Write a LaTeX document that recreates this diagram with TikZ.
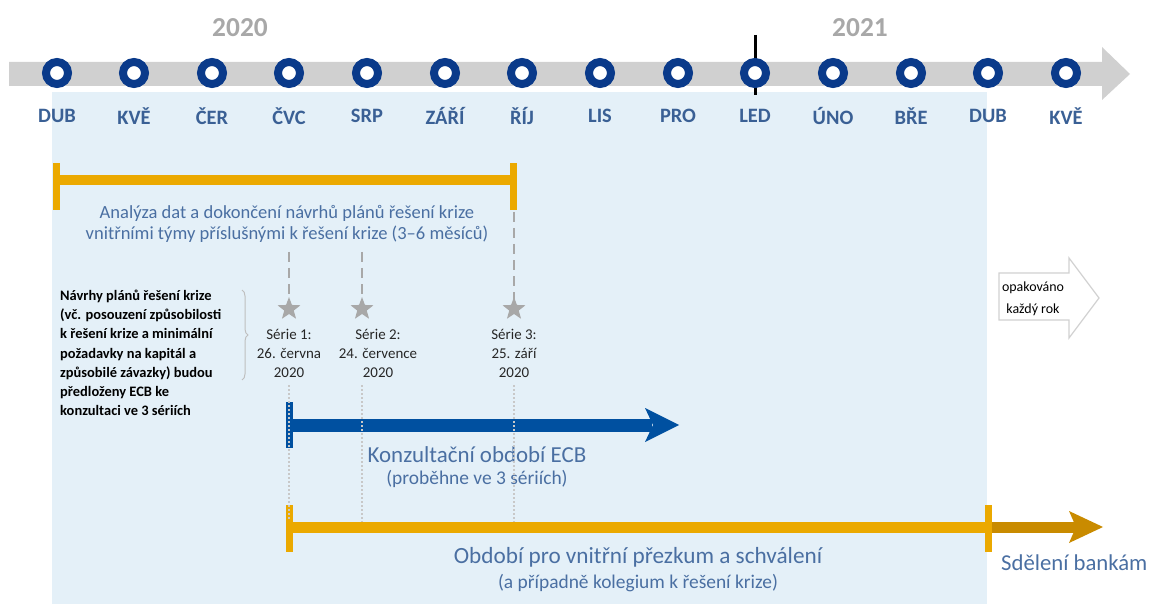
\documentclass[tikz,border=0pt]{standalone}
\usepackage{fontspec}
\setmainfont{Carlito}
\usetikzlibrary{shapes.geometric,decorations.pathreplacing}
\definecolor{bgblue}{HTML}{E4F0F8}
\definecolor{tlgray}{HTML}{D0D0D0}
\definecolor{ecbblue}{HTML}{0A3A8A}
\definecolor{monthblue}{HTML}{3A6095}
\definecolor{txtblue}{HTML}{4A6FA2}
\definecolor{orng}{HTML}{EBA900}
\definecolor{dorng}{HTML}{C98B00}
\definecolor{arrblue}{HTML}{0050A0}
\definecolor{yeargray}{HTML}{A8A8A8}
\definecolor{dashgray}{HTML}{A8A8A8}
\definecolor{dotgray}{HTML}{C8C8C8}
\tikzset{
  monthlbl/.style={font=\fontsize{20.5}{24}\selectfont\bfseries, text=monthblue, inner sep=0pt},
  yearlbl/.style={font=\fontsize{27.5}{30}\selectfont\bfseries, text=yeargray, inner sep=0pt},
  ring/.style={draw=ecbblue, line width=8bp, fill=white},
  bluetxt/.style={text=txtblue, align=center, inner sep=0pt},
  serieslbl/.style={font=\fontsize{15}{19}\selectfont, text=black!85, align=center, inner sep=0pt},
  dashln/.style={draw=dashgray, line width=2.6bp, dash pattern=on 10bp off 6bp},
  dotln/.style={draw=dotgray, line width=1.2bp, dash pattern=on 2bp off 2bp},
  starmark/.style={star, star points=5, star point ratio=2.4, fill=dashgray, minimum size=24bp, inner sep=0pt},
}
\begin{document}
\begin{tikzpicture}[x=1bp,y=-1bp]
\useasboundingbox (0,0) rectangle (1152,606);
% background
\fill[bgblue] (52,92) rectangle (987,604);
% timeline arrow
\fill[tlgray] (9,62) -- (1102,62) -- (1102,47) -- (1130,74) -- (1102,100) -- (1102,86) -- (9,86) -- cycle;
% LED marker
\draw[black, line width=3bp] (755,35) -- (755,95);
% year labels
\node[yearlbl] (y2020) at (240,28) {2020};
\node[yearlbl] (y2021) at (860,28) {2021};
% months
\foreach \x/\m [count=\i] in {57/DUB,134/KVĚ,212/ČER,289/ČVC,367/SRP,445/ZÁŘÍ,522/ŘÍJ,600/LIS,678/PRO,755/LED,833/ÚNO,911/BŘE,988/DUB,1066/KVĚ}{
  \draw[ring] (\x,73) circle (11);
  \node[monthlbl] (m\i) at (\x,116) {\m};
}
% top orange bracket
\coordinate (a1) at (57,180);
\coordinate (a2) at (513,180);
\draw[orng, line width=10bp] (a1) -- (a2);
\fill[orng] (53,163) rectangle (60,210);
\fill[orng] (510,163) rectangle (517,210);
\node[bluetxt, font=\fontsize{18.6}{21.5}\selectfont] (analyza) at (287,224) {Analýza dat a dokončení návrhů plánů řešení krize\\vnitřními týmy příslušnými k řešení krize (3–6 měsíců)};
% dashed lines and stars
\coordinate (d1) at (289,252);
\coordinate (d2) at (362,252);
\coordinate (d3) at (514,212);
\node[starmark] (s1) at (289,309) {};
\node[starmark] (s2) at (362,309) {};
\node[starmark] (s3) at (514,309) {};
\draw[dashln] (d1) -- (s1.center);
\draw[dashln] (d2) -- (s2.center);
\draw[dashln] (d3) -- (s3.center);
% series labels
\node[serieslbl] (l1) at (289,353) {Série 1:\\26. června\\2020};
\node[serieslbl] (l2) at (378,353) {Série 2:\\24. července\\2020};
\node[serieslbl] (l3) at (514,353) {Série 3:\\25. září\\2020};
% left text and brace
\node[font=\fontsize{14.5}{19.2}\selectfont\bfseries, align=left, anchor=north west, inner sep=0pt] (navrhy) at (60,290) {Návrhy plánů řešení krize\\(vč. posouzení způsobilosti\\k řešení krize a minimální\\požadavky na kapitál a\\způsobilé závazky) budou\\předloženy ECB ke\\konzultaci ve 3 sériích};
\coordinate (b1) at (242,290);
\coordinate (b2) at (242,380);
\draw[black!25, line width=1bp, decorate, decoration={brace, amplitude=6bp}] (b1) -- (b2);
% blue arrow
\coordinate (ba1) at (289,425);
\coordinate (ba2) at (652,425);
\draw[arrblue, line width=13bp] (ba1) -- (ba2);
\fill[arrblue] (645,408) -- (679,425) -- (645,442) -- (653,425) -- cycle;
\fill[arrblue] (286,402) rectangle (293,448);
\node[bluetxt, font=\fontsize{23}{26}\selectfont] (konz) at (477,455) {Konzultační období ECB};
\node[bluetxt, font=\fontsize{19.5}{22}\selectfont] (konz2) at (477,479) {(proběhne ve 3 sériích)};
% bottom orange
\coordinate (o1) at (289,527);
\coordinate (o2) at (988,527);
\coordinate (o3) at (1078,527);
\draw[orng, line width=11bp] (o1) -- (o2);
\draw[dorng, line width=11bp] (o2) -- (o3);
\fill[dorng] (1069,511) -- (1103,527) -- (1069,543) -- (1076,527) -- cycle;
\fill[orng] (285.5,505) rectangle (292.5,552);
\fill[orng] (984.5,505) rectangle (991.5,552);
\node[bluetxt, font=\fontsize{23.3}{26}\selectfont] (obd) at (638,557) {Období pro vnitřní přezkum a schválení};
\node[bluetxt, font=\fontsize{19.5}{22}\selectfont] (obd2) at (638,583) {(a případně kolegium k řešení krize)};
\node[bluetxt, font=\fontsize{22.8}{26}\selectfont, anchor=west] (sdel) at (1001,563) {Sdělení bankám};
% dotted guide lines
\coordinate (t1) at (289,385);
\coordinate (t2) at (362,385);
\coordinate (t3) at (514,385);
\coordinate (u1) at (289,520);
\coordinate (u2) at (362,522);
\coordinate (u3) at (514,522);
\draw[dotln] (t1) -- (u1);
\draw[dotln] (t2) -- (u2);
\draw[dotln] (t3) -- (u3);
% repeat arrow
\draw[black!18, line width=1.2bp, fill=white] (999,273) -- (1069,273) -- (1069,258) -- (1099,298) -- (1069,338) -- (1069,320) -- (999,320) -- cycle;
\node[font=\fontsize{14}{22}\selectfont, align=center, inner sep=0pt] (opak) at (1033,299) {opakováno\\každý rok};
\end{tikzpicture}
\end{document}
